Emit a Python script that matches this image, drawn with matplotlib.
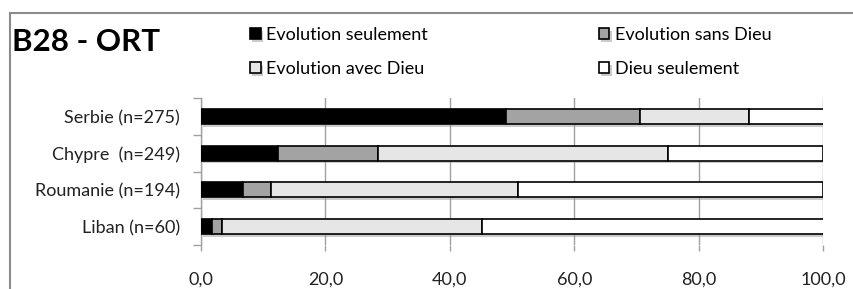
import numpy as np
import matplotlib
matplotlib.use('Agg')
import matplotlib.pyplot as plt
from matplotlib.patches import Rectangle
import matplotlib.patheffects as pe

plt.rcParams['font.family'] = ['Lato', 'DejaVu Sans']

# data (percentages)
countries = ['Serbie (n=275)', 'Chypre  (n=249)', 'Roumanie (n=194)', 'Liban (n=60)']
evo_seul = [49.1, 12.4, 6.7, 1.7]
evo_sans_dieu = [21.5, 16.1, 4.6, 1.7]
evo_avec_dieu = [17.5, 46.6, 39.7, 41.7]
dieu_seul = [12.0, 24.9, 49.0, 55.0]
series_names = ['Evolution seulement', 'Evolution sans Dieu', 'Evolution avec Dieu', 'Dieu seulement']
series_colors = ['#000000', '#a3a3a3', '#e6e6e6', '#ffffff']
xticks = [0, 20, 40, 60, 80, 100]

W, H = 854, 289
fig = plt.figure(figsize=(W / 100, H / 100), dpi=100)
ax = fig.add_axes([201 / W, 1 - 245 / H, 622 / W, 147 / H])

# outer frame of the chart
fig.patches.append(Rectangle((10 / W, -0.1), 1.2, 1 - 13 / H + 0.1, transform=fig.transFigure,
                             fill=False, edgecolor='#8c8c8c', linewidth=1.5, zorder=0))

y = np.arange(len(countries))[::-1]
left = np.zeros(len(countries))
bars = []
for vals, name, col in zip([evo_seul, evo_sans_dieu, evo_avec_dieu, dieu_seul], series_names, series_colors):
    b = ax.barh(y, vals, left=left, height=0.41, color=col, edgecolor='black', linewidth=1.2,
                label=name, zorder=3)
    for p in b:
        p.set_path_effects([pe.SimplePatchShadow(offset=(1.5, -2), shadow_rgbFace='#999999', alpha=0.5), pe.Normal()])
    bars.append(b)
    left = left + np.array(vals)

ax.set_xlim(0, 100)
ax.set_ylim(-0.5, 3.5)
ax.set_yticks(y)
ax.set_yticklabels(countries, fontsize=13, color='#222222')
ax.set_yticks(np.arange(-0.5, 4, 1), minor=True)
ax.tick_params(axis='y', which='major', length=0, pad=15)
ax.tick_params(axis='y', which='minor', length=6, color='#a0a0a0', width=1)
ax.set_xticks(xticks)
ax.set_xticklabels([f'{v:.1f}'.replace('.', ',') for v in xticks], fontsize=13, color='#222222')
ax.tick_params(axis='x', length=4, color='#a0a0a0', width=1, pad=15)
ax.grid(axis='x', color='#a0a0a0', linewidth=1, zorder=0)
ax.set_axisbelow(True)
for s in ['top', 'right', 'bottom']:
    ax.spines[s].set_visible(False)
ax.spines['left'].set_color('#a0a0a0')
ax.spines['left'].set_linewidth(1)

fig.text(12 / W, 1 - 42 / H, 'B28 - ORT', fontsize=22.5, fontweight='bold', va='center', ha='left')

order = [0, 2, 1, 3]
leg = fig.legend([bars[i] for i in order], [series_names[i] for i in order], ncol=2,
                 loc='upper left', bbox_to_anchor=(250 / W, 1 - 27 / H), frameon=False,
                 fontsize=13, handlelength=0.6, handleheight=0.6, handletextpad=0.3,
                 labelspacing=1.0, columnspacing=9.45, borderaxespad=0, borderpad=0)
for h in leg.legend_handles:
    h.set_linewidth(1.2)

fig.savefig('out.png', dpi=100)
